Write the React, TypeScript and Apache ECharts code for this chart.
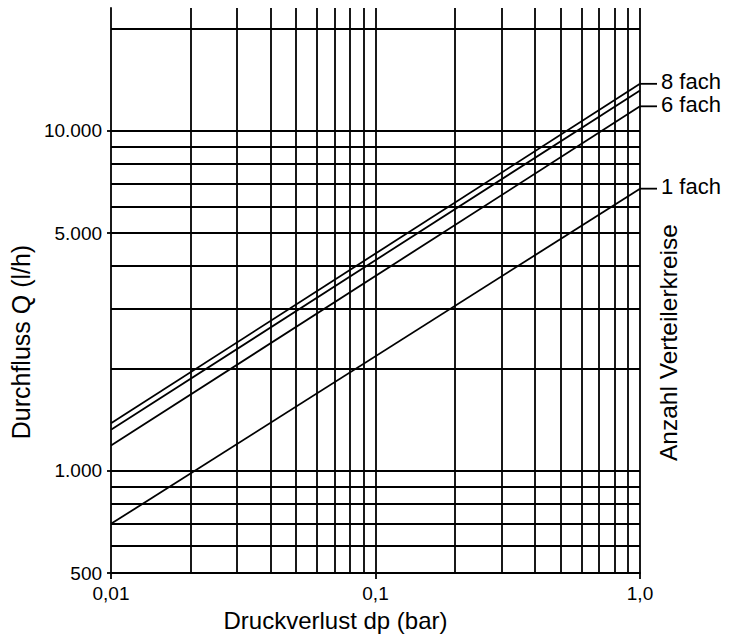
import React, { useEffect, useRef } from 'react';
import * as echarts from 'echarts';

// Pressure loss dp (bar): the two ends of each straight line on the log-log chart
const dpPoints = [0.01, 1.0];
// Flow Q (l/h) at dp = 0,01 and dp = 1,0 for each curve
const seriesNames = ['8 fach', '7 fach', '6 fach', '1 fach'];
const q8fach = [1380, 13760];
const q7fach = [1320, 13150];
const q6fach = [1186, 11815];
const q1fach = [698, 6763];
const endLabelTexts = ['8 fach', '', '6 fach', '1 fach'];

// Grid lines
const xGridValues = [0.02, 0.03, 0.04, 0.05, 0.06, 0.07, 0.08, 0.09, 0.1, 0.2, 0.3, 0.4, 0.5, 0.6, 0.7, 0.8, 0.9, 1.0];
const yGridValues = [600, 700, 800, 900, 1000, 2000, 3000, 4000, 5000, 6000, 7000, 8000, 9000, 10000, 20000];

// Tick labels
const yTickValues = [500, 1000, 5000, 10000];
const xTickLabels = ['0,01', '0,1', '1,0'];

const FONT = "'Liberation Sans', Arial, Helvetica, sans-serif";

function formatThousands(v: number): string {
  return String(Math.round(v)).replace(/\B(?=(\d{3})+(?!\d))/g, '.');
}

export default function App() {
  const ref = useRef<HTMLDivElement>(null);

  useEffect(() => {
    document.body.style.margin = '0';
    if (!ref.current) return;
    const chart = echarts.init(ref.current, null, { renderer: 'svg' });

    const allQ = [q8fach, q7fach, q6fach, q1fach];
    const lineSeries: any[] = seriesNames.map((name, i) => {
      const label = endLabelTexts[i];
      const s: any = {
        type: 'line',
        name,
        data: dpPoints.map((x, j) => [x, allQ[i][j]]),
        symbol: 'none',
        silent: true,
        lineStyle: { color: '#000', width: 1.8 },
        z: 3,
      };
      if (label) {
        s.endLabel = {
          show: true,
          distance: 0,
          formatter: `{ln|}{t|${label}}`,
          rich: {
            ln: { width: 17, height: 1.8, backgroundColor: '#000' },
            t: { fontSize: 22, lineHeight: 18, color: '#000', fontFamily: FONT, padding: [0, 0, 4, 4] },
          },
        };
      }
      return s;
    });

    const gridSeries = {
      type: 'line',
      name: 'grid',
      data: [],
      silent: true,
      markLine: {
        silent: true,
        symbol: ['none', 'none'],
        label: { show: false },
        emphasis: { disabled: true },
        lineStyle: { color: '#000', width: 1.8, type: 'solid' },
        data: [
          ...xGridValues.map((v) => ({ xAxis: v })),
          ...yGridValues.map((v) => ({ yAxis: v })),
        ],
      },
    };

    const option: any = {
      animation: false,
      backgroundColor: '#fff',
      textStyle: { fontFamily: FONT, color: '#000' },
      grid: { left: 108, right: 105, top: 8, bottom: 56 },
      xAxis: {
        type: 'log',
        logBase: 10,
        min: 0.01,
        max: 1,
        name: 'Druckverlust dp (bar)',
        nameLocation: 'middle',
        nameGap: 28,
        nameTextStyle: { fontSize: 24, color: '#000', fontFamily: FONT, padding: [0, 80, 0, 0] },
        axisLine: { show: true, onZero: false, lineStyle: { color: '#000', width: 1.8 } },
        axisTick: { show: true, length: 6, lineStyle: { color: '#000', width: 1.8 } },
        axisLabel: {
          margin: 11,
          fontSize: 19,
          color: '#000',
          fontFamily: FONT,
          formatter: (v: number) => xTickLabels[Math.round(Math.log10(v)) + 2] ?? '',
        },
        splitLine: { show: false },
      },
      yAxis: [
        {
          type: 'log',
          logBase: 10,
          min: 500,
          max: 23000,
          name: 'Durchfluss Q (l/h)',
          nameLocation: 'middle',
          nameRotate: 90,
          nameGap: 66,
          nameTextStyle: { fontSize: 25, color: '#000', fontFamily: FONT, padding: [0, 103, 0, 0] },
          axisLine: { show: true, onZero: false, lineStyle: { color: '#000', width: 1.8 } },
          axisTick: { show: true, length: 4, customValues: yTickValues, lineStyle: { color: '#000', width: 1.8 } },
          axisLabel: {
            margin: 9,
            fontSize: 19,
            color: '#000',
            fontFamily: FONT,
            customValues: yTickValues,
            formatter: (v: number) => formatThousands(v),
          },
          splitLine: { show: false },
        },
        {
          type: 'log',
          logBase: 10,
          min: 500,
          max: 23000,
          position: 'right',
          name: 'Anzahl Verteilerkreise',
          nameLocation: 'middle',
          nameRotate: 90,
          nameGap: 16,
          nameTextStyle: { fontSize: 24.5, color: '#000', fontFamily: FONT, padding: [0, 104, 0, 0] },
          axisLine: { show: false },
          axisTick: { show: false },
          axisLabel: { show: false },
          splitLine: { show: false },
        },
      ],
      series: [gridSeries, ...lineSeries],
    };

    chart.setOption(option);
    return () => chart.dispose();
  }, []);

  return <div ref={ref} style={{ width: 745, height: 637 }} />;
}
